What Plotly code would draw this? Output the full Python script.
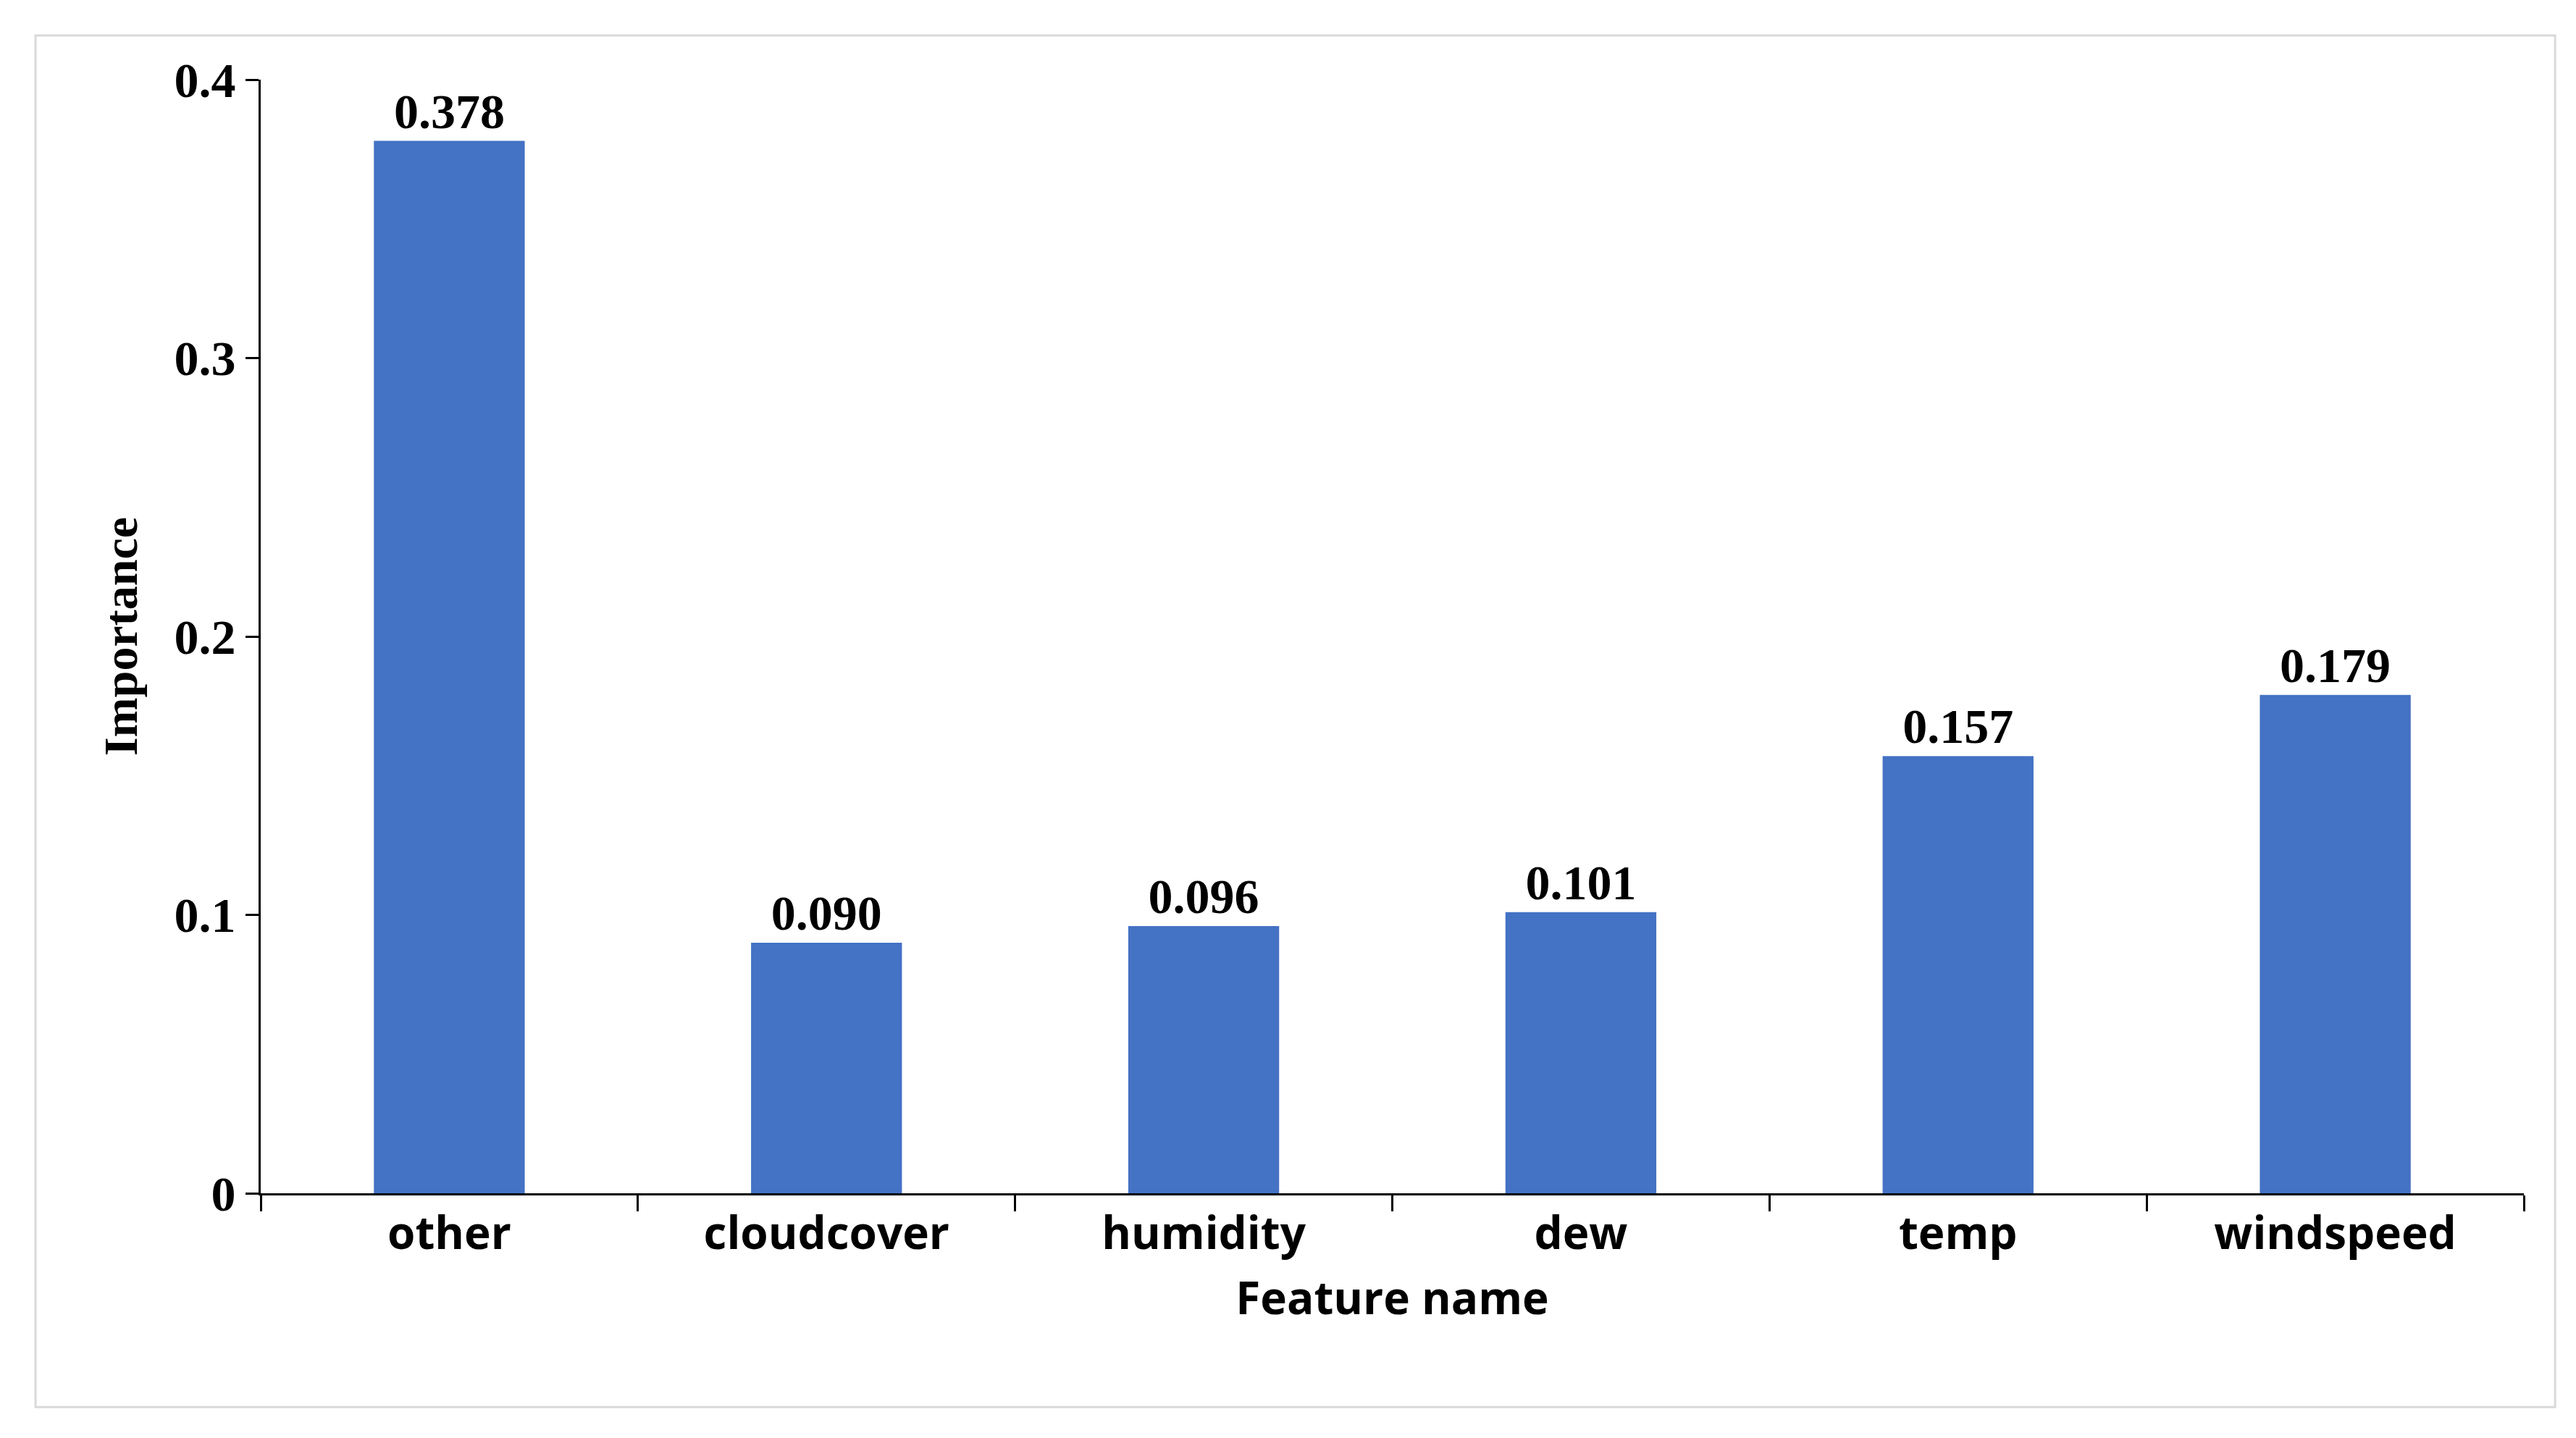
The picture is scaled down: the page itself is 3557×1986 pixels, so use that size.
import plotly.graph_objects as go

features = ['other', 'cloudcover', 'humidity', 'dew', 'temp', 'windspeed']
importance = [0.378, 0.090, 0.096, 0.101, 0.157, 0.179]
labels = ['0.378', '0.090', '0.096', '0.101', '0.157', '0.179']
y_ticks = [0, 0.1, 0.2, 0.3, 0.4]
y_tick_text = ['0', '0.1', '0.2', '0.3', '0.4']

serif = 'Liberation Serif'
sans = 'Open Sans'

fig = go.Figure(go.Bar(
    x=features,
    y=importance,
    text=labels,
    textposition='outside',
    textfont=dict(family=serif, size=68, color='black', weight='bold'),
    marker=dict(color='#4472C4', line=dict(width=0)),
    cliponaxis=False,
))

fig.update_layout(
    width=3557, height=1986,
    paper_bgcolor='white', plot_bgcolor='white',
    margin=dict(l=352, r=80, t=102, b=346),
    bargap=0.6,
    showlegend=False,
    shapes=[dict(type='rect', xref='paper', yref='paper',
                 x0=-0.0995, x1=1.0138, y0=-0.192, y1=1.0397,
                 line=dict(color='#d9d9d9', width=3), layer='below')],
)

fig.update_xaxes(
    showline=True, linecolor='black', linewidth=3,
    ticks='outside', tickson='boundaries', ticklen=22, tickwidth=3, tickcolor='black',
    tickfont=dict(family=sans, size=62, color='black', weight='bold'),
    title=dict(text='Feature name', font=dict(family=sans, size=62, color='black', weight='bold'), standoff=30),
    showgrid=False,
)

fig.update_yaxes(
    range=[0, 0.4],
    tickvals=y_ticks, ticktext=y_tick_text,
    showline=True, linecolor='black', linewidth=3,
    ticks='outside', ticklen=18, tickwidth=3, tickcolor='black',
    tickfont=dict(family=serif, size=68, color='black', weight='bold'),
    title=dict(text='Importance', font=dict(family=serif, size=66, color='black', weight='bold'), standoff=30),
    showgrid=False, zeroline=False,
)

fig.write_html("out.html")
